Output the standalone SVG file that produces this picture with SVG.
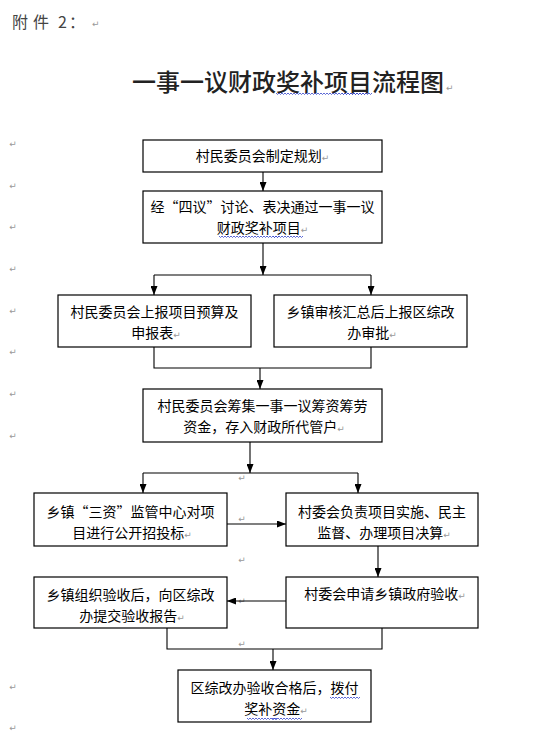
<svg xmlns="http://www.w3.org/2000/svg" width="558" height="749" viewBox="0 0 558 749">
<defs>
<marker id="arr" viewBox="0 0 9 7" refX="9" refY="3.5" markerWidth="9" markerHeight="7" markerUnits="userSpaceOnUse" orient="auto">
<path d="M0,0 L9,3.5 L0,7 z" fill="#000"/>
</marker>
<path id="wave" d="M0,0 l1.5,1.5 l1.5,-1.5 l1.5,1.5 l1.5,-1.5 l1.5,1.5 l1.5,-1.5 l1.5,1.5 l1.5,-1.5 l1.5,1.5 l1.5,-1.5 l1.5,1.5 l1.5,-1.5 l1.5,1.5 l1.5,-1.5 l1.5,1.5 l1.5,-1.5 l1.5,1.5 l1.5,-1.5 l1.5,1.5 l1.5,-1.5"/>
</defs>
<style>
.box{fill:#fff;stroke:#000;stroke-width:1.2}
.t{font-family:"Noto Sans CJK SC","Liberation Sans",sans-serif;font-size:14px;fill:#000;text-anchor:middle}
.m{font-family:"DejaVu Sans",sans-serif;font-size:9px;fill:#999}
.mk{font-family:"DejaVu Sans",sans-serif;font-size:9px;fill:#999;text-anchor:middle}
.c{fill:none;stroke:#000;stroke-width:1.1}
.a{fill:none;stroke:#000;stroke-width:1.1;marker-end:url(#arr)}
.w{fill:none;stroke:#3344cc;stroke-width:0.8}
</style>
<rect width="558" height="749" fill="#fff"/>

<g id="header">
<text x="12 33 58 69" y="28" style="font-family:'Noto Sans CJK SC',sans-serif;font-size:16px;fill:#444">附件2：</text>
<text x="92" y="27" class="m">↵</text>
<text x="132" y="91" style="font-family:'Noto Sans CJK SC',sans-serif;font-size:24px;font-weight:500;fill:#222">一事一议财政奖补项目流程图</text>
<text x="446" y="91" class="m">↵</text>
<g class="w">
<use href="#wave" x="276" y="93"/><use href="#wave" x="306" y="93"/><use href="#wave" x="336" y="93"/><use href="#wave" x="342" y="93"/>
</g>
</g>

<g id="margin-marks">
<text class="mk" x="13" y="147">↵</text>
<text class="mk" x="13" y="189">↵</text>
<text class="mk" x="13" y="230">↵</text>
<text class="mk" x="13" y="272">↵</text>
<text class="mk" x="13" y="314">↵</text>
<text class="mk" x="13" y="355">↵</text>
<text class="mk" x="13" y="397">↵</text>
<text class="mk" x="13" y="439">↵</text>
<text class="mk" x="13" y="690">↵</text>
<text class="mk" x="13" y="731">↵</text>
<text class="mk" x="242" y="481">↵</text>
<text class="mk" x="242" y="522">↵</text>
<text class="mk" x="242" y="563">↵</text>
<text class="mk" x="242" y="604">↵</text>
<text class="mk" x="242" y="647">↵</text>
</g>

<g id="connectors">
<line class="a" x1="263" y1="172" x2="263" y2="191"/>
<line class="a" x1="263" y1="243" x2="263" y2="275"/>
<polyline class="c" points="154,275 371,275"/>
<line class="a" x1="154" y1="275" x2="154" y2="295"/>
<line class="a" x1="371" y1="275" x2="371" y2="295"/>
<polyline class="c" points="154,347 154,368 371,368 371,347"/>
<line class="a" x1="260" y1="368" x2="260" y2="389"/>
<line class="a" x1="250" y1="442" x2="250" y2="473"/>
<polyline class="c" points="143,473 358,473"/>
<line class="a" x1="143" y1="473" x2="143" y2="493"/>
<line class="a" x1="358" y1="473" x2="358" y2="493"/>
<line class="a" x1="227" y1="524" x2="286" y2="524"/>
<line class="a" x1="378" y1="546" x2="378" y2="577"/>
<line class="a" x1="286" y1="601" x2="227" y2="601"/>
<polyline class="c" points="167,628 167,649 382,649 382,628"/>
<line class="a" x1="273" y1="649" x2="273" y2="670"/>
</g>

<g id="n1">
<rect class="box" x="143" y="140" width="239" height="32"/>
<text class="t" x="262.5" y="161">村民委员会制定规划<tspan class="m">↵</tspan></text>
</g>
<g id="n2">
<rect class="box" x="143" y="191" width="239" height="52"/>
<text class="t" x="262.5" y="212">经“四议”讨论、表决通过一事一议</text>
<text class="t" x="262.5" y="233">财政奖补项目<tspan class="m">↵</tspan></text>
<g class="w"><use href="#wave" x="219" y="236"/><use href="#wave" x="249" y="236"/><use href="#wave" x="273" y="236"/></g>
</g>
<g id="n3">
<rect class="box" x="58" y="295" width="193" height="52"/>
<text class="t" x="154.5" y="317">村民委员会上报项目预算及</text>
<text class="t" x="156" y="338">申报表<tspan class="m">↵</tspan></text>
</g>
<g id="n4">
<rect class="box" x="274" y="295" width="193" height="52"/>
<text class="t" x="370.5" y="317">乡镇审核汇总后上报区综改</text>
<text class="t" x="372" y="338">办审批<tspan class="m">↵</tspan></text>
</g>
<g id="n5">
<rect class="box" x="143" y="389" width="239" height="53"/>
<text class="t" x="262.5" y="411">村民委员会筹集一事一议筹资筹劳</text>
<text class="t" x="264" y="432">资金，存入财政所代管户<tspan class="m">↵</tspan></text>
</g>
<g id="n6">
<rect class="box" x="34" y="493" width="193" height="53"/>
<text class="t" x="130.5" y="517">乡镇“三资”监管中心对项</text>
<text class="t" x="132" y="538">目进行公开招投标<tspan class="m">↵</tspan></text>
</g>
<g id="n7">
<rect class="box" x="286" y="493" width="192" height="53"/>
<text class="t" x="382" y="517">村委会负责项目实施、民主</text>
<text class="t" x="384" y="538">监督、办理项目决算<tspan class="m">↵</tspan></text>
</g>
<g id="n8">
<rect class="box" x="34" y="577" width="193" height="51"/>
<text class="t" x="130.5" y="600">乡镇组织验收后，向区综改</text>
<text class="t" x="132" y="621">办提交验收报告<tspan class="m">↵</tspan></text>
</g>
<g id="n9">
<rect class="box" x="286" y="577" width="192" height="51"/>
<text class="t" x="385" y="599">村委会申请乡镇政府验收<tspan class="m">↵</tspan></text>
</g>
<g id="n10">
<rect class="box" x="178" y="670" width="193" height="52"/>
<text class="t" x="274.5" y="693">区综改办验收合格后，拨付</text>
<text class="t" x="276" y="714">奖补资金<tspan class="m">↵</tspan></text>
<g class="w"><use href="#wave" x="330" y="697"/><use href="#wave" x="247" y="718"/><use href="#wave" x="272" y="718"/></g>
</g>
</svg>
